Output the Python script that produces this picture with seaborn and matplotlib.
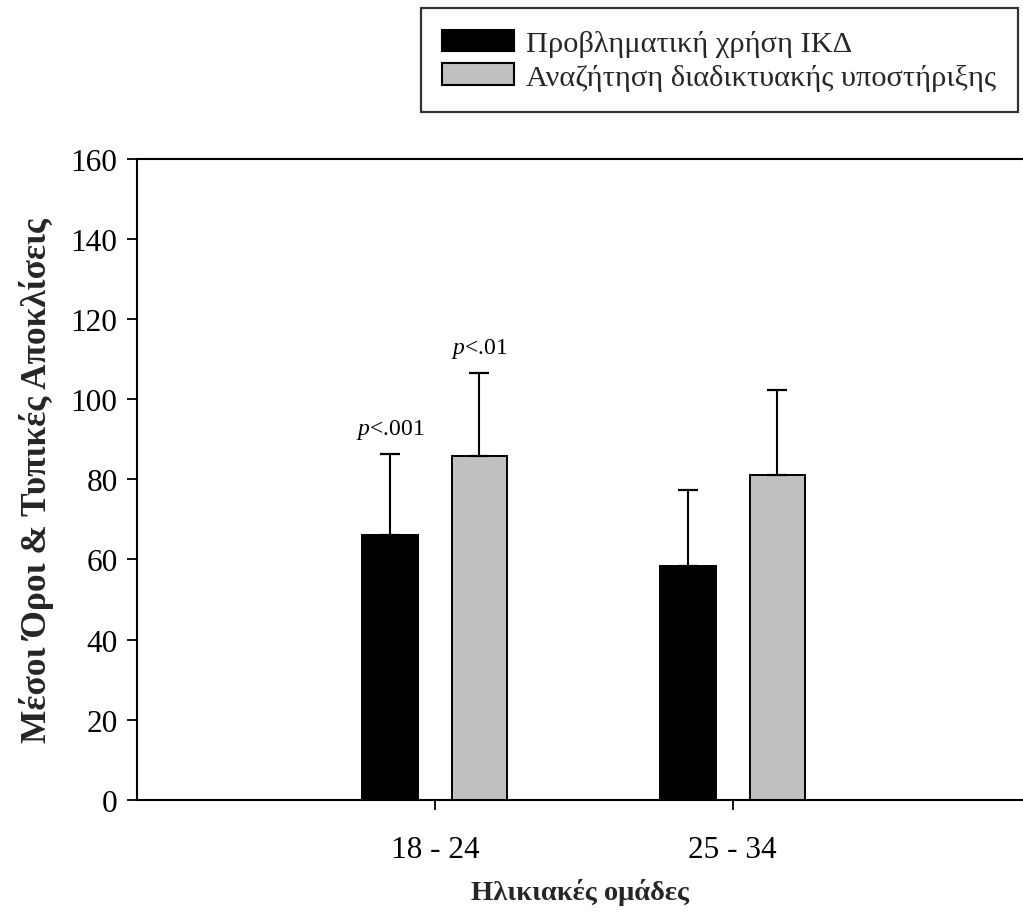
import matplotlib
matplotlib.use("Agg")
import matplotlib.pyplot as plt
import seaborn as sns
import pandas as pd
import numpy as np

# ---- data ----
groups = ["18 - 24", "25 - 34"]
series = ["Προβληματική χρήση ΙΚΔ", "Αναζήτηση διαδικτυακής υποστήριξης"]
means_problem = [66.2, 58.4]
means_support = [85.9, 81.2]
sd_problem = [20.1, 18.9]
sd_support = [20.7, 21.1]
p_labels_problem = ["p<.001", ""]
p_labels_support = ["p<.01", ""]
y_ticks = [0, 20, 40, 60, 80, 100, 120, 140, 160]

df = pd.DataFrame({
    "group": groups * 2,
    "series": [series[0]] * 2 + [series[1]] * 2,
    "mean": means_problem + means_support,
})
sds = [sd_problem, sd_support]
plabels = [p_labels_problem, p_labels_support]

sns.set_theme(style="white")
plt.rcParams["font.family"] = ["Liberation Serif", "DejaVu Serif"]
plt.rcParams["mathtext.fontset"] = "custom"
plt.rcParams["mathtext.rm"] = "Liberation Serif"
plt.rcParams["mathtext.it"] = "Liberation Serif:italic"

W, H = 1023, 920
fig = plt.figure(figsize=(W / 100, H / 100), dpi=100)
left, right = 137 / W, 1.0
bottom, top = (H - 800.7) / H, (H - 160) / H
ax = fig.add_axes([left, bottom, right - left, top - bottom])

sns.barplot(data=df, x="group", y="mean", hue="series",
            palette=["#000000", "#c0c0c0"], width=0.6, gap=0.38,
            errorbar=None, edgecolor="black", linewidth=1.4, ax=ax,
            saturation=1)

bar_containers = list(ax.containers)
for ci, cont in enumerate(bar_containers):
    for bi, bar in enumerate(list(cont)):
        xc = bar.get_x() + bar.get_width() / 2
        h = bar.get_height()
        sd = sds[ci][bi]
        ax.errorbar([xc], [h], yerr=[[0], [sd]], fmt="none", ecolor="black",
                    elinewidth=1.5, capsize=7.2, capthick=1.6, zorder=1)
        lab = plabels[ci][bi]
        if lab:
            txt = r"$\mathit{p}$" + lab[1:]
            ax.text(xc, h + sd + 5, txt, ha="center", va="baseline",
                    fontsize=17, color="black")

ax.set_xlim(-1.0, 1.975)
ax.set_ylim(0, 160)
ax.set_yticks(y_ticks)
ax.set_yticklabels([str(t) for t in y_ticks])

for s in ["left", "bottom", "top"]:
    ax.spines[s].set_visible(True)
    ax.spines[s].set_color("black")
    ax.spines[s].set_linewidth(1.5)
ax.spines["right"].set_visible(False)

ax.tick_params(axis="both", which="both", direction="out", length=7,
               width=1.3, color="black", labelsize=22.5, labelcolor="black",
               left=True, bottom=True)
ax.tick_params(axis="y", pad=7)
ax.tick_params(axis="x", pad=18.5)

ax.set_xlabel("Ηλικιακές ομάδες", fontsize=20.5, fontweight="bold", labelpad=10)
ax.set_ylabel("Μέσοι Όροι & Τυπικές Αποκλίσεις", fontsize=25.5, fontweight="bold",
              labelpad=12)

handles, labels_ = ax.get_legend_handles_labels()
if ax.get_legend() is not None:
    ax.get_legend().remove()
leg = fig.legend(handles, labels_, loc="upper right",
                 bbox_to_anchor=(1018 / W, 1 - 9 / H),
                 frameon=True, fancybox=False, fontsize=21.9,
                 handlelength=2.35, handleheight=0.7, handletextpad=0.4,
                 labelspacing=0.2, borderpad=0.72, borderaxespad=0)
leg.get_frame().set_edgecolor("black")
leg.get_frame().set_linewidth(1.6)
for hnd in leg.legend_handles:
    hnd.set_edgecolor("black")
    hnd.set_linewidth(1.5)

fig.savefig("out.png", dpi=100, facecolor="white")
